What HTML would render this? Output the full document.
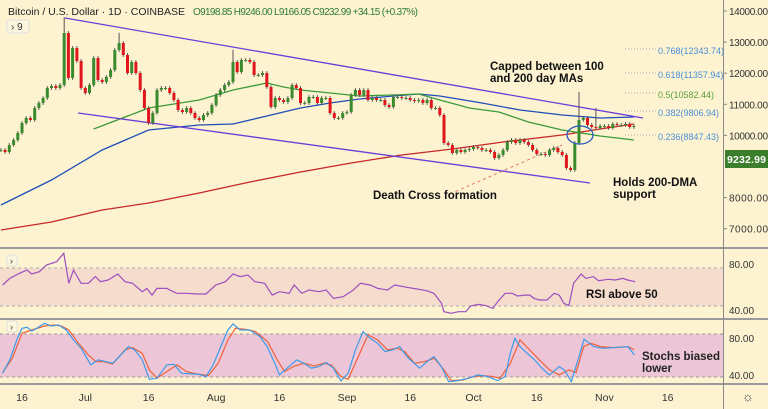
<!DOCTYPE html>
<html><head><meta charset="utf-8">
<style>
html,body{margin:0;padding:0;background:#fdf3d1;}
svg{display:block;font-family:"Liberation Sans",sans-serif;}
</style></head>
<body>
<svg id="chart" width="768" height="409" viewBox="0 0 768 409" xmlns="http://www.w3.org/2000/svg">
<rect x="0" y="0" width="768" height="409" fill="#fdf3d1"/>
<g id="main"></g>
<g id="rsi"></g>
<g id="stoch"></g>
<g id="axes"></g>
</svg>
<script>
// ---- data ----
const closes = [9531,9467,9692,9853,10078,10399,10560,10496,10881,11042,11203,11524,11589,11524,11621,13293,11846,12810,12392,11524,11364,11621,12489,11782,11717,11878,12103,12746,12971,12585,12007,12360,12007,11460,10881,10399,10721,11460,11524,11524,11364,11139,10817,10753,10881,10721,10560,10496,10656,10721,10978,11299,11460,11621,11717,12360,12039,12425,12425,12360,11942,11942,12007,11557,10914,11203,11139,11075,11203,11621,11524,11042,11042,11235,11235,11042,11203,11203,10721,10560,10560,10721,10753,11299,11460,11299,11460,11139,11203,11139,11139,10978,10914,11235,11235,11203,11203,11139,11107,11139,11042,11139,10881,10881,10656,9756,9692,9435,9531,9467,9531,9563,9628,9596,9531,9531,9467,9274,9370,9531,9788,9853,9756,9853,9788,9692,9531,9403,9403,9370,9531,9596,9467,9370,8953,8888,9756,10496,10560,10335,10271,10239,10303,10303,10239,10367,10335,10335,10367,10271,10303];
const firstDay = -5;
const spikeDays = [10,23,50,132,136];
const spikeHighs = [13800,13300,12750,11400,10880];
const ma50Days = [17,30,42,50,58,62,66,73,80,88,94,99,106,113,120,128,137,145];
const ma50Vals = [10206,10881,11139,11460,11685,11557,11460,11364,11267,11299,11331,11139,10881,10753,10431,10174,9981,9853];
const ma100Days = [-5,7,19,30,42,50,59,66,73,80,88,94,99,109,118,128,137,145];
const ma100Vals = [7763,8567,9531,10174,10335,10367,10656,10881,11042,11171,11267,11331,11267,11042,10817,10656,10560,10592];
const ma200Days = [-5,7,19,30,42,54,66,78,90,102,114,128,137,145];
const ma200Vals = [6959,7216,7602,7827,8149,8502,8824,9113,9370,9563,9788,10014,10206,10367];
const priceTicks = [14000,13000,12000,11000,10000,8000,7000];
const rsiDays = [-4.6,-2.9,-0.6,1.2,2.3,4.1,5.8,8.2,9.9,11.1,12.2,14,15.7,17.4,18.6,20.4,22.7,24.4,26.2,28.5,29.6,30.8,32,34.3,36.6,39,41.3,43.6,45.9,48.2,50,51.7,53.5,55.2,57.5,59.3,61,63.3,64.5,66.3,68,70.3,72.1,73.8,76.1,78.5,80.2,82.5,84.3,86.6,88.3,91.2,93.6,95.9,97.6,99.4,100,101.7,103.4,105.2,106.3,108.1,109.8,111.6,112.7,114.5,116.2,117.4,119.1,120.3,121.4,122.6,124.4,126.1,127.3,128.4,129.6,130.7,132.5,133.6,135.4,136.6,138.9,140.6,142.4,143.5,145.3];
const rsiVals = [61.7,67.5,71.9,74.8,71.3,73.3,79.1,82,89.3,63.2,74.8,63.2,63.2,69,64.6,66.1,71.3,64.6,63.2,55.9,58.8,53,58.8,58.8,54.5,54.5,53.9,53.9,61.7,64.6,71.3,69,70.4,64.6,63.2,53,55.9,54.5,61.7,54.5,57.4,55.9,57.4,50.1,51.6,57.4,63.2,61.7,58.8,57.4,61.7,59.7,58.3,56.8,54.5,45.8,38.5,37.1,38.5,38.5,43.5,44.9,44,41.4,47.2,54.5,54.5,52.2,53,53,50.1,48.7,48.7,54.5,53,45.8,43.8,63.2,71.3,67.5,69,65.5,66.7,66.1,67.5,66.1,64.6];
const kDays = [-4.6,-2.9,-1.1,0,1.2,2.3,3.5,5.3,7,8.7,10.5,12.2,14,16.3,18,19.8,21.5,23.8,25.2,26.7,28.5,30.2,32,34.3,36,37.8,40.1,41.9,43.6,45.3,47.1,48.8,50,51.7,54,56.4,58.1,59.9,61,62.8,65.1,66.8,68.6,70.3,72.1,73.8,75.6,77.3,79,80.8,82.5,84.3,86,87.8,89.5,91.2,94.2,96.5,97.6,99.4,101.1,103.4,105.8,108.1,110.4,112.7,114.5,115.7,116.8,118,119.7,121.5,123.2,125,127.3,128.5,130.2,132,133.2,135.5,137.8,141.3,143.6,145.1];
const kVals = [41.9,56.3,79.7,90.5,91.6,87.6,90.5,95.9,93,94.1,88.7,77.9,68.9,50.9,56.3,54.5,52.7,63.5,70.7,67.1,56.3,35.4,36.5,50.9,51.6,41.9,41.2,40.8,38.3,50.9,70.7,88.7,95.2,88.7,88.7,81.5,70.7,52.7,40.1,47.3,56.3,52.7,47.3,49.1,53.4,47.3,33.6,41.9,67.1,86.9,79.7,74.3,65.3,67.1,70.7,59.9,47.3,56.3,59.9,49.1,32.9,34,36.5,40.1,38.3,34,38.3,63.5,79.7,70.7,63.5,56.3,47.3,40.1,49.1,45.5,32.9,59.9,78.6,70.7,68.9,70,70.7,61.7];
const dDays = [-4.6,-2.3,0,2.3,5.3,7.6,9.3,11.1,13.4,15.7,17.5,19.2,21.5,24.4,26.2,28.5,30.2,32,34.3,36.7,39,41.3,44.2,46.5,48.8,50.6,52.9,55.3,58.2,60.5,62.2,64.6,66.9,69.2,71.5,73.3,75.6,77.3,79.7,82,84.3,86.6,88.9,90.7,93,95.4,97.7,100,101.7,104.6,106.9,109.3,111.6,113.3,115.7,118,120.3,122.6,125,127.3,129.6,131.3,133.1,134.8,137.1,140,143.6,145.1];
const dVals = [42.6,58.1,85.1,88.7,93,94.1,93,88.7,74.3,61.7,54.5,54.5,52,67.1,69.6,63.5,45.5,36.5,43.7,50.9,43.7,41.2,39.4,52.7,77.9,90.5,89.4,86.9,76.1,56.3,43.7,49.8,52.7,49.8,52.7,50.9,38.3,35.4,59.9,83.3,77.9,67.1,68.9,65.3,52.7,54.5,58.1,45.5,33.9,34.7,38.3,39.4,38.3,36.5,52.7,77.9,67.1,56.3,45.5,40.1,45.5,42.6,70.7,74.3,70.7,69.6,70.7,67.1];
const timeLabels = ["16","Jul","16","Aug","16","Sep","16","Oct","16","Nov","16"];
const timeLabelDays = [0,15,30,46,61,77,92,107,122,138,153];
const fibLabels = ["0.768(12343.74)","0.618(11357.94)","0.5(10582.44)","0.382(9806.94)","0.236(8847.43)"];

// ---- scales ----
const NS="http://www.w3.org/2000/svg";
const xDay = d => 22 + d*4.22;
const yPrice = p => 11 + (14000-p)*0.0311;
const yRsi = v => 310 - (v-40)*1.15;
const ySto = v => 375 - (v-40)*0.925;
function el(tag, attrs, parent){const e=document.createElementNS(NS,tag);for(const k in attrs)e.setAttribute(k,attrs[k]);parent.appendChild(e);return e;}
const main=document.getElementById('main'), rsi=document.getElementById('rsi'), sto=document.getElementById('stoch'), axes=document.getElementById('axes');

// ---- RSI pane ----
let r=el('rect',{x:0,y:268,width:723,height:38,fill:'#f6dccc'},rsi);


[268,306].forEach(y=>{const l=el('line',{x1:0,x2:723,y1:y,y2:y,stroke:'#aaa','stroke-dasharray':'3,3'},rsi);

});
let pl=el('polyline',{points:rsiDays.map((d,i)=>xDay(d).toFixed(1)+','+yRsi(rsiVals[i]).toFixed(1)).join(' '),fill:'none',stroke:'#9c4fc0','stroke-width':1.2},rsi);



// ---- Stoch pane ----
r=el('rect',{x:0,y:334,width:723,height:43,fill:'#ecc6d6'},sto);


[334,377].forEach(y=>{const l=el('line',{x1:0,x2:723,y1:y,y2:y,stroke:'#999','stroke-dasharray':'3,3'},sto);

});
pl=el('polyline',{points:dDays.map((d,i)=>xDay(d).toFixed(1)+','+ySto(dVals[i]).toFixed(1)).join(' '),fill:'none',stroke:'#f0603a','stroke-width':1.2},sto);


pl=el('polyline',{points:kDays.map((d,i)=>xDay(d).toFixed(1)+','+ySto(kVals[i]).toFixed(1)).join(' '),fill:'none',stroke:'#3e9be8','stroke-width':1.2},sto);



// ---- Main pane: MAs ----
function maLine(days,vals,color,name){const p=el('polyline',{points:days.map((d,i)=>xDay(d).toFixed(1)+','+yPrice(vals[i]).toFixed(1)).join(' '),fill:'none',stroke:color,'stroke-width':1.3},main);

}
maLine(ma200Days,ma200Vals,'#c62828','ma-200-line');
maLine(ma100Days,ma100Vals,'#1e4fb8','ma-100-line');
maLine(ma50Days,ma50Vals,'#3a9a3a','ma-50-line');

// channel lines & annotations
[[65,18,643,118],[78,113,590,183]].forEach((c,i)=>{const l=el('line',{x1:c[0],y1:c[1],x2:c[2],y2:c[3],stroke:'#6a3fd8','stroke-width':1.3},main);

});
let dl=el('line',{x1:450,y1:194,x2:562,y2:145,stroke:'#e07a6a','stroke-width':1,'stroke-dasharray':'3,3'},main);



// fib levels
const fibY=[49,73,93,111,135];
fibLabels.forEach((t,i)=>{const l=el('line',{x1:625,x2:656,y1:fibY[i],y2:fibY[i],stroke:'#aaa','stroke-dasharray':'1,2'},main);


const tx=el('text',{x:658,y:fibY[i]+5,'font-size':9,fill:i==2?'#5a9e3a':'#4a8fd8'},main);tx.textContent=t;

});

// candles
closes.forEach((c,i)=>{const d=firstDay+i;const o=i?closes[i-1]:c;const x=xDay(d);
let hi=Math.max(o,c)+60, lo=Math.min(o,c)-60;const si=spikeDays.indexOf(d);if(si>=0)hi=spikeHighs[si];
const up=c>=o;const col=up?'#3a8a2e':'#e0161c';
const w=el('line',{x1:x.toFixed(1),x2:x.toFixed(1),y1:yPrice(hi).toFixed(1),y2:yPrice(lo).toFixed(1),stroke:'#555','stroke-width':1},main);


const top=yPrice(Math.max(o,c)), h=Math.max(1,yPrice(Math.min(o,c))-top);
const b=el('rect',{x:(x-1.5).toFixed(1),y:top.toFixed(1),width:3,height:h.toFixed(1),fill:col},main);

});

let ell=el('ellipse',{cx:580,cy:135,rx:13,ry:9,fill:'none',stroke:'#2a5bbf','stroke-width':1.3},main);



// annotation texts
function txt(parent,x,y,s,size,weight,fill,name){const t=el('text',{x:x,y:y,'font-size':size,'font-weight':weight,fill:fill},parent);t.textContent=s;

return t;}
txt(main,490,70,'Capped between 100',11.5,'bold','#111','annotation-capped');
txt(main,490,82,'and 200 day MAs',11.5,'bold','#111','annotation-capped-2');
txt(main,613,186,'Holds 200-DMA',11.5,'bold','#111','annotation-holds');
txt(main,613,198,'support',11.5,'bold','#111','annotation-holds-2');
txt(main,373,199,'Death Cross formation',11.5,'bold','#111','annotation-death-cross');
txt(rsi,586,298,'RSI above 50',11.5,'bold','#111','annotation-rsi');
txt(sto,642,360,'Stochs biased',11.5,'bold','#222','annotation-stoch');
txt(sto,642,372,'lower',11.5,'bold','#222','annotation-stoch-2');

// header
txt(axes,8,15,'Bitcoin / U.S. Dollar · 1D · COINBASE',10.5,'normal','#222','chart-title').setAttribute('textLength','177');
txt(axes,193,15,'O9198.85  H9246.00  L9166.05  C9232.99  +34.15 (+0.37%)',10,'normal','#2d7a36','ohlc-values').setAttribute('textLength','225');
let bx=el('rect',{x:7,y:20,width:22,height:13,rx:2,fill:'#fdf6df',stroke:'#ddd'},axes);


txt(axes,11,30,'› 9',10,'normal','#333','indicator-toggle-label');
[[7,255],[7,321]].forEach((p,i)=>{const b2=el('rect',{x:p[0],y:p[1],width:10,height:11,rx:2,fill:'#fdf6df',stroke:'#ddd'},axes);


txt(axes,p[0]+3,p[1]+9,'›',9,'normal','#333','pane-toggle-icon');});

// separators & axes
[[0,248,768,248],[0,319,768,319],[0,384,768,384]].forEach(s=>{const l=el('line',{x1:s[0],y1:s[1],x2:s[2],y2:s[3],stroke:'#9a9a9a','stroke-width':2},axes);

});
let ax=el('line',{x1:723.5,x2:723.5,y1:0,y2:409,stroke:'#8a8a8a','stroke-width':1},axes);


priceTicks.forEach(p=>{const y=yPrice(p);const tk=el('line',{x1:723,x2:727,y1:y,y2:y,stroke:'#888'},axes);


txt(axes,729,y+4,p.toFixed(2),10,'normal','#333','price-tick-label').setAttribute('textLength','39');});
[80,40].forEach(v=>{txt(axes,729,yRsi(v)+4,v.toFixed(2),10,'normal','#333','rsi-tick-label');});
[80,40].forEach(v=>{txt(axes,729,ySto(v)+4,v.toFixed(2),10,'normal','#333','stoch-tick-label');});
let pb=el('rect',{x:725,y:150,width:43,height:18,fill:'#3b7f2c'},axes);


txt(axes,727,163,'9232.99',10.5,'bold','#fff','last-price-label').setAttribute('textLength','39');
timeLabels.forEach((t,i)=>{const tt=txt(axes,xDay(timeLabelDays[i]),401,t,10.5,'normal','#333','time-axis-label');tt.setAttribute('text-anchor','middle');});
const gear=txt(axes,748,401,'☼',13,'normal','#444','settings-icon');gear.setAttribute('text-anchor','middle');

</script>
</body></html>
